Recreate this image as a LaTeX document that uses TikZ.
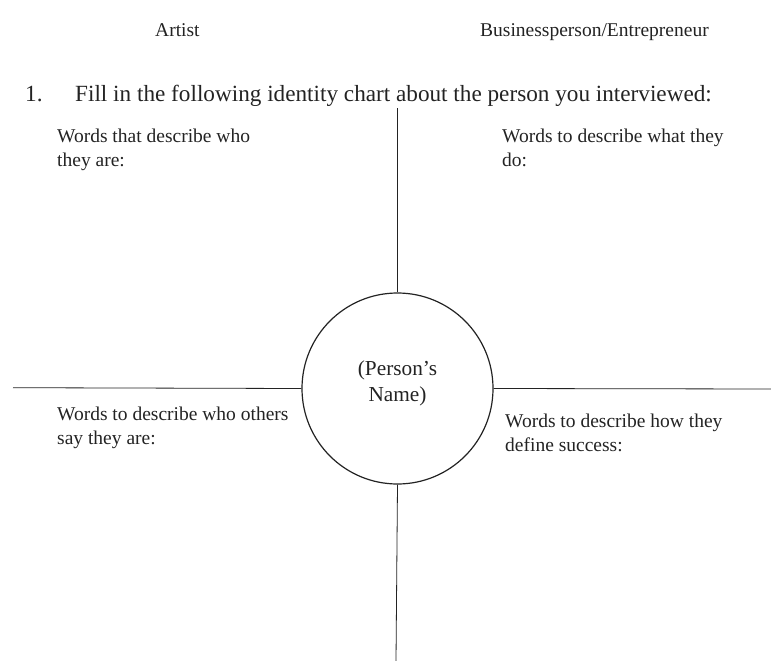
\documentclass[tikz,border=0pt]{standalone}
\usepackage{fontspec}
\setmainfont{Liberation Serif}
\usepackage{tikz}
\usetikzlibrary{calc}
\definecolor{ink}{HTML}{232323}
\tikzset{
  words/.style={anchor=base west, inner sep=0pt, align=left, text=ink,
    font=\fontsize{19.5}{24.5}\selectfont},
  axis/.style={draw=ink, line width=0.8pt}
}
\newcommand{\prompt}[4]{\node[words] (#1) at ( #2 , #3 ) {#4};}

\begin{document}
\begin{tikzpicture}[x=1pt,y=-1pt]
        \useasboundingbox (0,0) rectangle (771,661);

        % header
        \prompt{artist}{155}{37}{Artist}
        \prompt{business}{480}{37}{Businessperson/Entrepreneur}
        \node[words, font=\fontsize{23.2}{28}\selectfont] (num) at (25,101) {1.};
        \node[words, font=\fontsize{23.2}{28}\selectfont] (task) at (75,101)
          {Fill in the following identity chart about the person you interviewed:};

        % centre
        \node[circle, draw=ink, line width=1.2pt, minimum size=191pt, inner sep=0pt]
          (name) at (397.5,388.5) {};
        \node[align=center, text=ink, inner sep=0pt, font=\fontsize{21.3}{25.5}\selectfont]
          (nametext) at ([yshift=5pt]name.center) {(Person’s\\Name)};

        % arms
        \coordinate (top) at (397.5,108);
        \coordinate (left) at (13,387.7);
        \coordinate (right) at (771,389);
        \coordinate (bottom) at (396,661);
        \draw[axis] (top) -- (name.north);
        \draw[axis] (left) -- (name.west);
        \draw[axis] (name.east) -- (right);
        \draw[axis] (name.south) -- (bottom);

        % quadrants (anchor sits on the last line)
        \prompt{who}{57}{166.5}{Words that describe who\\they are:}
        \prompt{what}{502}{166.5}{Words to describe what they\\do:}
        \prompt{others}{57}{444.5}{Words to describe who others\\say they are:}
        \prompt{success}{505}{451.5}{Words to describe how they\\define success:}
    \end{tikzpicture}
\end{document}
